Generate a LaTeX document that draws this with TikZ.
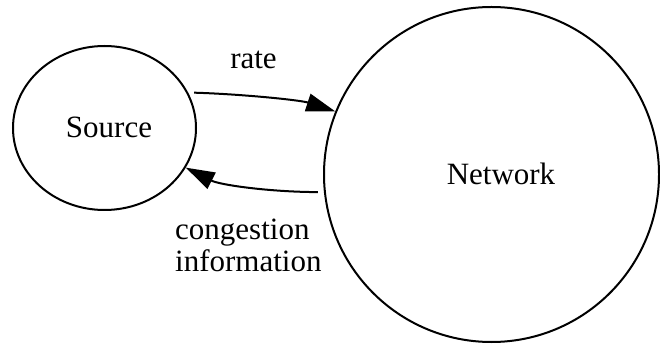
\documentclass[tikz,border=0pt]{standalone}
\usepackage{fontspec}
\setmainfont{Liberation Serif}
\usetikzlibrary{arrows.meta,shapes.geometric}
\begin{document}
\begin{tikzpicture}[x=1pt,y=-1pt,
  blob/.style={draw,ellipse,line width=2pt,inner sep=0pt},
  label/.style={font=\fontsize{31}{32.4}\selectfont,inner sep=0pt},
  flow/.style={line width=2pt,-{Triangle[length=29pt,width=18pt]},shorten <=6pt}]
  \useasboundingbox (0,0) rectangle (660,344);
  % the two ellipses
  \node[blob,minimum width=183pt,minimum height=164pt] (src) at (104.5,128) {};
  \node[blob,minimum width=335pt,minimum height=335pt] (net) at (491.5,174.5) {};
  \node[label,anchor=base] (srclbl) at (109,138) {Source};
  \node[label,anchor=base] (netlbl) at (501,185) {Network};
  % rate: source to network
  \draw[flow] (src.23) .. controls (240,94) and (300,100) .. (net.158);
  \node[label,anchor=base] (ratelbl) at (253.5,68.3) {rate};
  % feedback: network to source
  \draw[flow] (net.186) .. controls (270,192) and (220,185) .. (src.-26);
  \node[label,anchor=base west,align=left] (conglbl) at (175,271.7) {congestion\\information};
\end{tikzpicture}
\end{document}
